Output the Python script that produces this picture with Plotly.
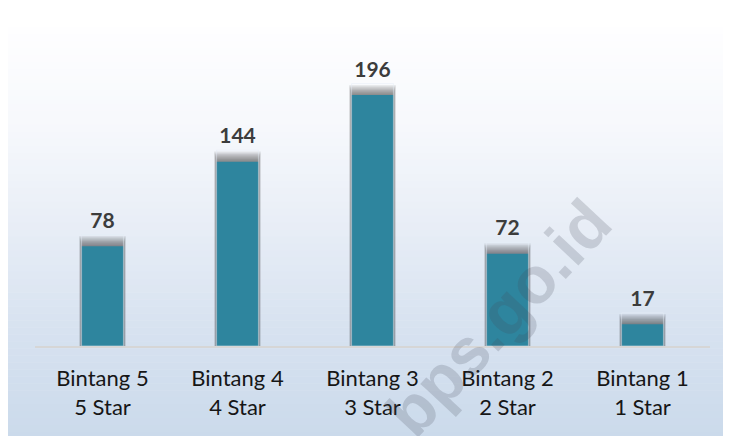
import plotly.graph_objects as go

categories = ["Bintang 5<br>5 Star", "Bintang 4<br>4 Star", "Bintang 3<br>3 Star",
              "Bintang 2<br>2 Star", "Bintang 1<br>1 Star"]
values = [78, 144, 196, 72, 17]

BAR = "#2e859e"
LABEL = "#3c3c3c"
W, H = 731, 436
OFF = 8  # page body margin shifts the figure by 8px, so pull everything back
L, R, T, B = 35 - OFF, 21 + OFF, 60 - OFF, 90 + OFF
ph = H - T - B
pw = W - L - R
PX = 1.28  # pixels per unit on the y axis


def ypap(p):
    # reference pixel row -> paper y
    return (H - B - (p - OFF)) / ph


def xpap(p):
    return (p - OFF - L) / pw


fig = go.Figure()

# blurred shadow above each bar, faked with stacked translucent layers
for i in range(8, 0, -1):
    fig.add_trace(go.Bar(
        x=categories, y=[v + i * 1.0 for v in values], width=0.31 + 0.0045 * i,
        marker=dict(color="rgba(45,45,50,0.085)", line=dict(width=0)),
        hoverinfo="skip", showlegend=False,
    ))

fig.add_trace(go.Bar(
    x=categories, y=values, width=0.31,
    marker=dict(color=BAR, line=dict(width=0)),
    showlegend=False,
))

# value labels ride on an invisible bar a little above the shadow
fig.add_trace(go.Bar(
    x=categories, y=[v + 9 for v in values], width=0.31,
    marker=dict(color="rgba(0,0,0,0)"),
    text=[str(v) for v in values], textposition="outside", cliponaxis=False,
    textfont=dict(family="Lato, Open Sans, sans-serif", size=21, color=LABEL),
    texttemplate="<b>%{text}</b>",
    hoverinfo="skip", showlegend=False,
))

# vertical gradient background (white -> pale blue)
stops = [(27, (254, 254, 255)), (130, (246, 248, 252)), (230, (231, 237, 246)),
         (330, (215, 226, 240)), (436, (203, 218, 235))]
shapes = []
n = 60
top, bot = 27, 446
for i in range(n):
    p0 = top + (bot - top) * i / n
    p1 = top + (bot - top) * (i + 1) / n
    pm = min((p0 + p1) / 2, 436)
    for (a, ca), (b, cb) in zip(stops[:-1], stops[1:]):
        if a <= pm <= b:
            t = (pm - a) / (b - a)
            c = tuple(round(ca[k] + (cb[k] - ca[k]) * t) for k in range(3))
            break
    shapes.append(dict(
        type="rect", xref="paper", yref="paper", layer="below",
        x0=xpap(0), x1=xpap(727), y0=ypap(p1 + 0.5), y1=ypap(p0),
        fillcolor=f"rgb{c}", line=dict(width=0),
    ))

fig.update_layout(
    width=W, height=H,
    barmode="overlay",
    paper_bgcolor="white",
    plot_bgcolor="rgba(0,0,0,0)",
    margin=dict(l=L, r=R, t=T, b=B, autoexpand=False),
    shapes=shapes,
    xaxis=dict(
        showgrid=False, showline=True, linecolor="#d6d6d6", linewidth=1.5,
        ticks="", ticklabelstandoff=12, automargin=False,
        tickfont=dict(family="Lato, Open Sans, sans-serif", size=22, color="#161616"),
    ),
    yaxis=dict(range=[0, ph / PX], visible=False, showgrid=False),
    annotations=[dict(
        text="<b>bps.go.id</b>", xref="paper", yref="paper",
        x=xpap(498), y=ypap(318), xanchor="center", yanchor="middle",
        showarrow=False, textangle=-47,
        font=dict(family="Liberation Sans, Arial, sans-serif", size=66,
                  color="rgba(70,75,90,0.2)"),
    )],
)

fig.write_html("out.html")
